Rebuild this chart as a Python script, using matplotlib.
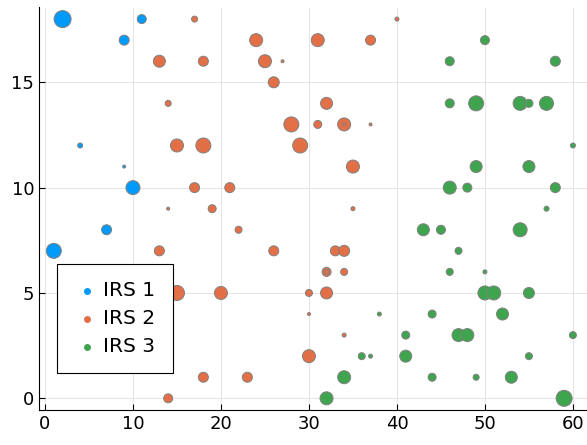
import matplotlib.pyplot as plt
import numpy as np

# values: x, y, marker diameter (px)
irs1_x = [2, 11, 9, 4, 9, 10, 7, 1]
irs1_y = [18, 18, 17, 12, 11, 10, 8, 7]
irs1_d = [17, 9, 10, 5, 3, 14, 10, 15]

irs2_x = [17, 24, 13, 18, 25, 27, 26, 14, 28, 15, 18, 29, 17, 21, 14, 19,
          40, 31, 37, 32, 31, 34, 34, 37, 35, 35, 22, 13, 26, 33, 34, 32, 32,
          34, 30, 32, 14, 15, 20, 30, 34, 14, 14, 30, 18, 23, 14]
irs2_y = [18, 17, 16, 16, 16, 16, 15, 14, 13, 12, 12, 12, 10, 10, 9, 9,
          18, 17, 17, 14, 13, 13, 13, 13, 11, 9, 8, 7, 7, 7, 7, 6, 6,
          6, 5, 5, 5, 5, 5, 4, 3, 3, 2, 2, 1, 1, 0]
irs2_d = [6, 13, 12, 10, 13, 3, 11, 6, 15, 13, 15, 15, 10, 10, 3, 8,
          4, 13, 10, 12, 8, 13, 3, 3, 13, 4, 7, 10, 10, 10, 11, 9, 5,
          7, 7, 12, 10, 15, 13, 3, 4, 7, 8, 13, 10, 10, 9]

irs3_x = [50, 46, 58, 46, 49, 54, 55, 57, 60, 49, 55, 46, 48, 58, 57, 43, 45,
          54, 47, 46, 50, 50, 51, 55, 38, 44, 52, 41, 47, 48, 60, 36, 37, 41,
          55, 34, 44, 49, 53, 32, 59]
irs3_y = [17, 16, 16, 14, 14, 14, 14, 14, 12, 11, 11, 10, 10, 10, 9, 8, 8,
          8, 7, 6, 6, 5, 5, 5, 4, 4, 4, 3, 3, 3, 3, 2, 2, 2,
          2, 1, 1, 1, 1, 0, 0]
irs3_d = [9, 9, 10, 9, 15, 14, 8, 14, 5, 12, 12, 13, 9, 10, 5, 12, 9,
          14, 7, 7, 4, 14, 14, 11, 4, 8, 12, 8, 13, 13, 7, 7, 4, 12,
          7, 13, 8, 6, 12, 13, 16]

series = [("IRS 1", irs1_x, irs1_y, irs1_d, "#009AFA"),
          ("IRS 2", irs2_x, irs2_y, irs2_d, "#E36F47"),
          ("IRS 3", irs3_x, irs3_y, irs3_d, "#3EA44E")]

fig = plt.figure(figsize=(5.87, 4.45), dpi=100)
ax = fig.add_axes([39/587, 35/445, 548/587, 402.5/445])

for name, x, y, d, c in series:
    s = (np.array(d) * 0.72) ** 2
    ax.scatter(x, y, s=s, c=c, edgecolors="#808080", linewidths=0.7, label=name, zorder=3)

ax.set_xlim(-0.68, 61.6)
ax.set_ylim(-0.555, 18.55)
ax.set_xticks([0, 10, 20, 30, 40, 50, 60])
ax.set_yticks([0, 5, 10, 15])
ax.grid(True, color="#e6e6e6", lw=0.8)
ax.set_axisbelow(True)
for sp in ["top", "right"]:
    ax.spines[sp].set_visible(False)
ax.tick_params(direction="in", length=4, labelsize=13, width=0.8)

leg = ax.legend(loc="lower left", bbox_to_anchor=(0.0328, 0.0907), fontsize=14.5,
                fancybox=False, framealpha=1, edgecolor="black", borderpad=0.85,
                handlelength=1.3, handletextpad=0.15,
                labelspacing=0.45, borderaxespad=0)
for h in leg.legend_handles:
    h.set_sizes([25])
    h.set_linewidth(0)
leg.get_frame().set_linewidth(0.8)

plt.savefig("out.png")
